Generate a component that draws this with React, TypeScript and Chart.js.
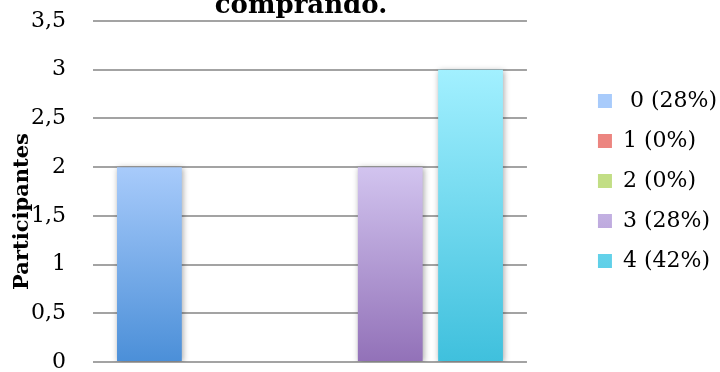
import React, { useEffect, useRef } from 'react';
import { Chart, registerables } from 'chart.js';

Chart.register(...registerables);

const categories = [''];
const seriesLabels = [' 0 (28%)', '1 (0%)', '2 (0%)', '3 (28%)', '4 (42%)'];
const seriesValues = [2, 0, 0, 2, 3];
const topColors = ['#a8cbfb', '#f8aba6', '#dcf2b0', '#d2c4ef', '#a2f0ff'];
const bottomColors = ['#4b8fd8', '#dd5a55', '#a6c957', '#9271b8', '#3fc0dd'];
const legendColors = ['#7aafeb', '#ec8580', '#c2de85', '#b39bd6', '#70d8ee'];
const yMin = 0;
const yMax = 3.5;
const yStep = 0.5;
const chartTitle = 'comprando.';
const yTitle = 'Participantes';

const FONT = "'DejaVu Serif', serif";

const titlePlugin = {
  id: 'cutTitle',
  afterDraw(chart: any) {
    const { ctx, chartArea } = chart;
    ctx.save();
    ctx.fillStyle = '#000';
    ctx.font = `bold 26px ${FONT}`;
    ctx.textAlign = 'center';
    ctx.textBaseline = 'alphabetic';
    ctx.fillText(chartTitle, (chartArea.left + chartArea.right) / 2 - 9, chartArea.top - 8);
    ctx.translate(chartArea.left - 70, (chartArea.top + chartArea.bottom) / 2 + 20);
    ctx.rotate(-Math.PI / 2);
    ctx.font = `bold 21px ${FONT}`;
    ctx.textBaseline = 'middle';
    ctx.fillText(yTitle, 0, 0);
    ctx.restore();
  },
};

const shadowPlugin = {
  id: 'barShadow',
  beforeDatasetsDraw(chart: any) {
    const ctx = chart.ctx;
    ctx.save();
    ctx.shadowColor = 'rgba(0,0,0,0.35)';
    ctx.shadowBlur = 6;
    ctx.shadowOffsetX = 1;
    ctx.shadowOffsetY = 1;
  },
  afterDatasetsDraw(chart: any) {
    chart.ctx.restore();
  },
};

export default function App() {
  const ref = useRef<HTMLCanvasElement>(null);
  useEffect(() => {
    if (!ref.current) return;
    Chart.defaults.font.family = FONT;
    const chart = new Chart(ref.current, {
      type: 'bar',
      data: {
        labels: categories,
        datasets: seriesLabels.map((label, i) => ({
          label,
          data: [seriesValues[i]],
          borderWidth: 0,
          backgroundColor: (c: any) => {
            if (c.type !== 'data') return legendColors[i];
            const ch = c.chart;
            const y = ch.scales && ch.scales.y;
            if (!ch.chartArea || !y) return legendColors[i];
            const v = c.raw as number;
            const top = y.getPixelForValue(v);
            const bot = y.getPixelForValue(0);
            if (!isFinite(top) || !isFinite(bot) || top === bot) return legendColors[i];
            const g = ch.ctx.createLinearGradient(0, top, 0, bot);
            g.addColorStop(0, topColors[i]);
            g.addColorStop(1, bottomColors[i]);
            return g;
          },
        })),
      },
      options: {
        responsive: false,
        animation: false,
        layout: { padding: { top: 21, bottom: 10, left: 0, right: -7 } },
        datasets: { bar: { categoryPercentage: 0.925, barPercentage: 0.807 } },
        scales: {
          x: { display: false },
          y: {
            min: yMin,
            max: yMax,
            ticks: {
              stepSize: yStep,
              padding: 27,
              color: '#000',
              font: { size: 22, family: FONT },
              callback: (v: any) => String(v).replace('.', ','),
            },
            grid: { color: '#a3a3a3', lineWidth: 2, drawTicks: false },
            border: { display: false },
            afterFit: (s: any) => {
              s.width = 93;
              s.paddingTop = 0;
              s.paddingBottom = 0;
            },
          },
          yR: {
            type: 'linear',
            position: 'right',
            display: true,
            grid: { display: false, drawTicks: false },
            ticks: { display: false },
            border: { display: false },
            afterFit: (s: any) => {
              s.width = 53;
              s.paddingTop = 0;
              s.paddingBottom = 0;
            },
          },
        },
        plugins: {
          title: { display: false },
          tooltip: { enabled: false },
          legend: {
            position: 'right',
            align: 'start',
            maxWidth: 300,
            title: { display: true, text: ' ', font: { size: 10 }, padding: { top: 39, bottom: 0 } },
            labels: {
              boxWidth: 14,
              boxHeight: 14,
              padding: 18,
              color: '#000',
              font: { size: 22, family: FONT },
            },
          },
        },
      },
      plugins: [shadowPlugin, titlePlugin],
    } as any);
    return () => {
      chart.destroy();
    };
  }, []);
  return (
    <div style={{ position: 'fixed', left: 0, top: 0, width: 720, height: 372 }}>
      <canvas ref={ref} width={720} height={372} style={{ display: 'block' }} />
    </div>
  );
}
